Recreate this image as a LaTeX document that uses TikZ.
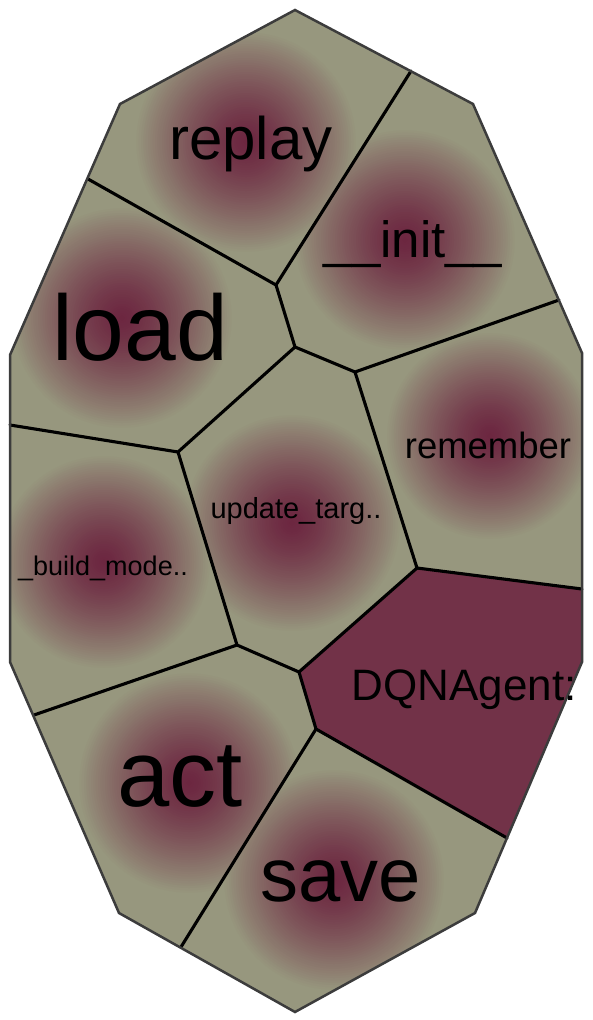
\documentclass[tikz,border=0pt]{standalone}
\usepackage{fontspec}
\setmainfont{Liberation Sans}
\definecolor{olivegray}{RGB}{151,151,126}
\definecolor{maroondark}{RGB}{108,38,64}
\definecolor{dqnfill}{RGB}{114,50,72}
\definecolor{rimgray}{RGB}{60,60,60}
\tikzset{
  innerline/.style={black, line width=3.1pt, line join=round, line cap=round},
  rimline/.style={rimgray, line width=2.5pt, line join=miter},
  lbl/.style={anchor=base, inner sep=0pt, text=black},
}
\newcommand{\cellfill}[3]{%
  \begin{scope}
    \clip #1 -- cycle;
    \fill[olivegray] #1 -- cycle;
    \foreach \k in {48,47,...,1}{%
      \pgfmathsetmacro{\pct}{100*(1-(\k/48)^1.35)}%
      \pgfmathsetmacro{\rr}{#3*\k/48}%
      \fill[maroondark!\pct!olivegray] #2 circle (\rr pt);
    }
  \end{scope}}
\begin{document}
\begin{tikzpicture}[x=1pt,y=-1pt]
\useasboundingbox (0,0) rectangle (592,1020);
% outer vertices
\coordinate (T) at (295,10);
\coordinate (UR) at (473,104);
\coordinate (RU) at (582,353);
\coordinate (RL) at (582,662);
\coordinate (LR) at (475,913);
\coordinate (B) at (295,1012);
\coordinate (LL) at (119,913);
\coordinate (LLo) at (10,662);
\coordinate (LU) at (10,355);
\coordinate (UL) at (120,104);
% junctions
\coordinate (a) at (411,71);
\coordinate (b) at (276,285);
\coordinate (c) at (88,179);
\coordinate (d) at (295,347);
\coordinate (e) at (559,300);
\coordinate (f) at (355,372);
\coordinate (g) at (178,452);
\coordinate (h) at (10,425);
\coordinate (i) at (417,568);
\coordinate (j) at (582,589);
\coordinate (k) at (299,672);
\coordinate (l) at (237,645);
\coordinate (m) at (34,715);
\coordinate (n) at (316,729);
\coordinate (o) at (507,838);
\coordinate (p) at (181,947);
% cells
\cellfill{(c) -- (UL) -- (T) -- (a) -- (b)}{(246,142)}{112}
\cellfill{(a) -- (UR) -- (e) -- (f) -- (d) -- (b)}{(405,240)}{112}
\cellfill{(LU) -- (c) -- (b) -- (d) -- (g) -- (h)}{(122,318)}{112}
\cellfill{(e) -- (RU) -- (j) -- (i) -- (f)}{(490,436)}{105}
\cellfill{(d) -- (f) -- (i) -- (k) -- (l) -- (g)}{(292,523)}{110}
\cellfill{(h) -- (g) -- (l) -- (m) -- (LLo)}{(104,562)}{108}
\fill[dqnfill] (i) -- (j) -- (RL) -- (o) -- (n) -- (k) -- cycle;
\cellfill{(m) -- (l) -- (k) -- (n) -- (p) -- (LL)}{(189,783)}{112}
\cellfill{(n) -- (o) -- (LR) -- (B) -- (p)}{(334,880)}{112}
% inner borders
\draw[innerline] (c) -- (b) -- (a);
\draw[innerline] (b) -- (d) -- (f) -- (e);
\draw[innerline] (d) -- (g) -- (h);
\draw[innerline] (f) -- (i) -- (j);
\draw[innerline] (i) -- (k) -- (l) -- (g);
\draw[innerline] (l) -- (m);
\draw[innerline] (k) -- (n) -- (o);
\draw[innerline] (n) -- (p);
% outer rim
\draw[rimline] (T) -- (UR) -- (RU) -- (RL) -- (LR) -- (B) -- (LL) -- (LLo) -- (LU) -- (UL) -- cycle;
% labels
\node[lbl, font=\fontsize{60}{60}\selectfont] (replay) at (251,159) {replay};
\node[lbl, font=\fontsize{51}{51}\selectfont] (init) at (413,257) {\_\_init\_\_};
\node[lbl, font=\fontsize{93}{93}\selectfont] (load) at (140,360) {load};
\node[lbl, font=\fontsize{36.5}{36.5}\selectfont] (remember) at (488,458) {remember};
\node[lbl, font=\fontsize{29}{29}\selectfont] (update) at (296,518) {update\_targ..};
\node[lbl, font=\fontsize{27}{27}\selectfont] (build) at (103,575) {\_build\_mode..};
\node[lbl, font=\fontsize{44}{44}\selectfont] (dqn) at (464,700) {DQNAgent:};
\node[lbl, font=\fontsize{94}{94}\selectfont] (act) at (180,806) {act};
\node[lbl, font=\fontsize{76}{76}\selectfont] (save) at (341,901) {save};
\end{tikzpicture}
\end{document}
